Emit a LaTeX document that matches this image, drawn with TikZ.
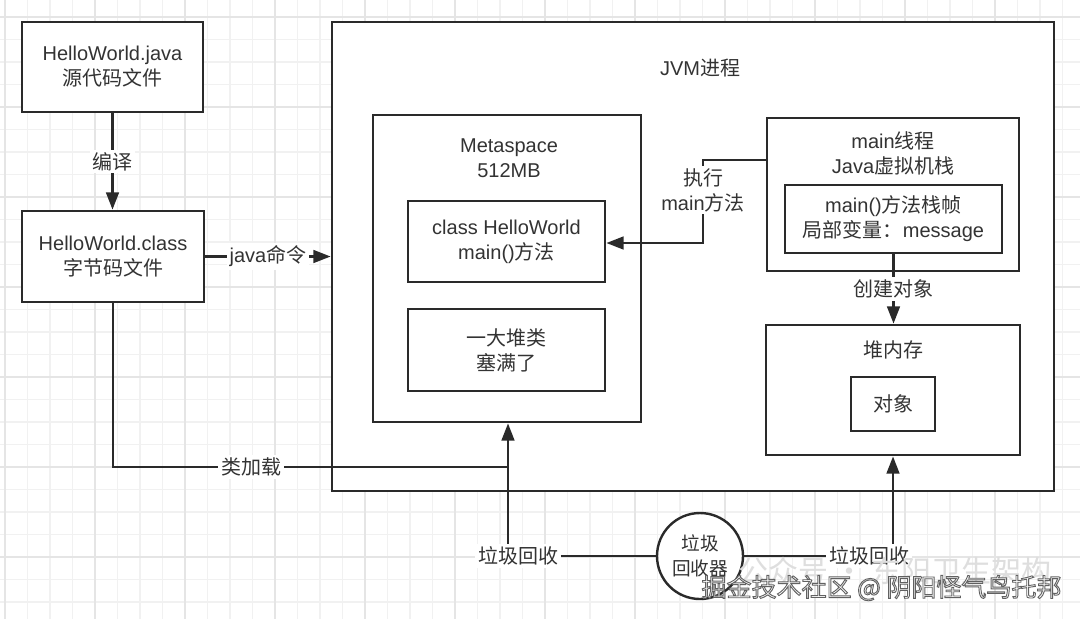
\documentclass[tikz,border=0pt]{standalone}
\usepackage{fontspec}
\setmainfont{Liberation Sans}
\newfontfamily\cjk{Noto Sans CJK SC}
\usetikzlibrary{arrows.meta,calc}
\definecolor{ln}{HTML}{2A2A2A}
\definecolor{tx}{HTML}{333333}
\definecolor{gmin}{HTML}{F1F1F1}
\definecolor{gmaj}{HTML}{E5E5E5}
\newcommand{\zh}[1]{{\cjk #1}}
\begin{document}
\begin{tikzpicture}[x=0.75pt,y=-0.75pt,
  sz/.style 2 args={minimum width=#1*0.75pt,minimum height=#2*0.75pt},
  txt/.style={text=tx,font=\fontsize{15}{18.75}\selectfont,align=center,inner sep=1pt},
  box/.style={draw=ln,line width=2pt,fill=white,rectangle,txt,inner sep=0pt},
  lbl/.style={txt,fill=white,inner sep=2pt},
  conn/.style={draw=ln,line width=2pt},
  arr/.style={conn,-{Triangle[length=13pt,width=9.5pt]}},
  wmk/.style={font=\cjk\fontsize{18.75}{20}\selectfont,inner sep=0pt},
]
\useasboundingbox (0,0) rectangle (1080,619);
\fill[white] (0,0) rectangle (1080,619);
% grid
\foreach \k in {0,...,48}{
  \pgfmathsetmacro\xx{5+22.5*\k}
  \draw[gmin,line width=0.8pt] (\xx,0) -- (\xx,619);
}
\foreach \k in {-1,...,27}{
  \pgfmathsetmacro\yy{17+22.5*\k}
  \draw[gmin,line width=0.8pt] (0,\yy) -- (1080,\yy);
}
\foreach \k in {0,...,12}{
  \pgfmathsetmacro\xx{5+90*\k}
  \draw[gmaj,line width=0.9pt] (\xx,0) -- (\xx,619);
}
\foreach \k in {0,...,6}{
  \pgfmathsetmacro\yy{17+90*\k}
  \draw[gmaj,line width=0.9pt] (0,\yy) -- (1080,\yy);
}

% left boxes
\node[box,sz={181}{90}] (src) at (112.5,67) {HelloWorld.java\\\zh{源代码文件}};
\node[box,sz={182}{91}] (cls) at (113,256.5) {HelloWorld.class\\\zh{字节码文件}};

% JVM
\node[box,sz={722}{469}] (jvm) at (693,256.5) {};
\node[txt] (jvmt) at (700,68) {JVM\zh{进程}};

% Metaspace
\node[box,sz={268}{307}] (meta) at (507,268.5) {};
\node[txt] (metat) at (509,158) {Metaspace\\512MB};
\node[box,sz={197}{81}] (hw) at (506.5,241.5) {class HelloWorld\\main()\zh{方法}};
\node[box,sz={197}{82}] (pile) at (506.5,350) {\zh{一大堆类}\\\zh{塞满了}};

% main thread
\node[box,sz={252}{153}] (thread) at (893,194.5) {};
\node[txt] (threadt) at (893,153) {main\zh{线程}\\Java\zh{虚拟机栈}};
\node[box,sz={217}{68}] (frame) at (893.5,219) {main()\zh{方法栈帧}\\\zh{局部变量：}message};

% heap
\node[box,sz={254}{130}] (heap) at (893,390) {};
\node[txt] (heapt) at (893,350) {\zh{堆内存}};
\node[box,sz={84}{54}] (obj) at (893,404) {\zh{对象}};

% connectors
\draw[arr] (src.south) -- (src.south |- cls.north) node[lbl,midway] (l1) {\zh{编译}};
\draw[arr] (cls.east) -- (cls.east -| jvm.west) node[lbl,midway] (l2) {java\zh{命令}};

\coordinate (e1) at (703,160);
\coordinate (e2) at (703,243);
\draw[arr] (e1 -| thread.west) -- (e1) -- (e2) -- (e2 -| hw.east);
\node[lbl] (l3) at (703,190) {\zh{执行}\\main\zh{方法}};

\draw[arr] (frame.south) -- (frame.south |- heap.north) node[lbl,midway] (l4) {\zh{创建对象}};

\coordinate (j) at (508,467);
\draw[conn] (cls.south) |- (j);
\node[lbl] (l5) at (251,467) {\zh{类加载}};

% garbage collector
\node[draw=ln,line width=1.8pt,circle,fill=white,minimum size=86*0.75pt,inner sep=0pt,txt,font=\fontsize{14}{18.75}\selectfont] (gc) at (700,556) {\zh{垃圾}\\\zh{回收器}};
\node[lbl] (gcl) at (518,556) {\zh{垃圾回收}};
\node[lbl] (gcr) at (869,556) {\zh{垃圾回收}};
\draw[arr] (j |- gcl.north) -- (j |- meta.south);
\draw[conn] (gcl.east) -- (gc.west);
\draw[conn] (gc.east) -- (gcr.west);
\draw[arr] (heap.south |- gcr.north) -- (heap.south);

% watermarks
\node[font=\cjk\fontsize{22.5}{24}\selectfont,text=black!13,inner sep=0pt] (wm2) at (895,571) {公众号 · 东阳卫生架构};
\node[wmk,text=white] (wm) at (881.5,588) {\special{pdf:literal direct 2 Tr 0.7 w 0.38 G}掘金技术社区 @ 阴阳怪气鸟托邦\special{pdf:literal direct 0 Tr}};
\end{tikzpicture}
\end{document}
